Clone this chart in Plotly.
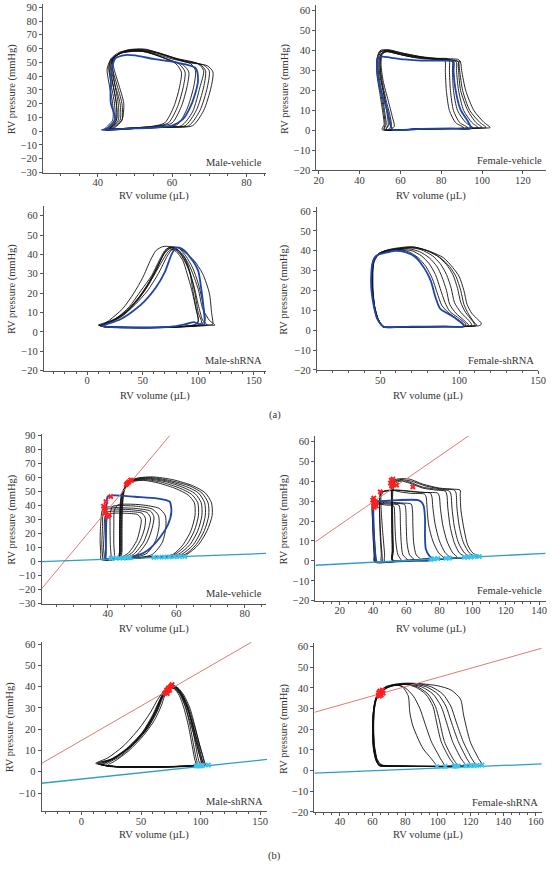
import plotly.graph_objects as go

W, H = 555, 869
FONT = "Liberation Serif"

# ================= DATA (volume µL, pressure mmHg) =================
# ---- (a) Male-vehicle ----
A_MV_BLACK = [
    [(41,1),(50,2),(60,3),(65.5,4),(68.5,15),(70.5,32),(71,43),(69.5,47.5),(64,50),(58,55),(53,59.5),(48,59),(45,55),(44,48),(44.5,35),(45.5,20),(45.5,8),(43,2)],
    [(41.5,1),(50,2),(59,3),(64.5,4),(67.5,15),(69.5,32),(70,44),(68.5,48),(63,51),(57,56),(52,59),(47.5,58.5),(44.5,54),(43.5,47),(44,35),(45,20),(45,8),(43,2)],
    [(42,1),(50,2),(58,3),(63.5,4),(66.5,15),(68.5,32),(69,44),(67.5,48.5),(62,52),(56,57),(51.5,58.5),(47,57.5),(44,53),(43,46),(43.5,35),(44.5,20),(44.5,8),(42.5,2)],
    [(42,1),(50,2),(57,3),(62.5,4),(65.5,14),(67.5,32),(68.5,44),(67,49),(61,53),(55,58),(51,59.5),(46.5,57),(43.5,52),(42.5,45),(43,35),(44,20),(44,8),(42,2)],
    [(42.5,1.5),(50,2.5),(56,3.5),(60,6),(62.5,18),(64,32),(64.5,43),(63,48),(59,52),(54,57),(50.5,58.5),(46.5,57),(44,53),(43.5,47),(44.5,35),(46,20),(46,8),(43.5,2.5)],
    [(42.5,1.5),(50,2.5),(55,3.5),(59,6),(61.5,18),(63,32),(63.5,43),(62,48.5),(58,53),(53,57.5),(50,58),(46,56.5),(44,52),(44,45),(45,35),(46.5,20),(46.5,8),(44,2.5)],
    [(43,1.5),(50,2.5),(54.5,3.5),(58,6),(60.5,18),(62,32),(62.5,43),(61,49),(57,54),(52,58),(49,58),(45.5,56),(44,51),(44.5,44),(45.5,35),(47,20),(46.5,8),(44.5,2.5)],
    [(42,1.2),(50,2.2),(57.5,3.2),(61.5,5),(64,16),(65.8,32),(66.3,44),(65,49),(60,52.5),(54.5,57),(50.5,59),(46,57.5),(43.5,52.5),(43,46),(44,35),(45,20),(45,8),(43,2)],
]
A_MV_BLUE = [(41.5,1.2),(50,2),(57,3),(60.2,4.3),(63,9),(64.6,15.8),(66.2,27),(67,37.3),(66.3,46),(61,50),(55,52.5),(50,55),(47.4,55.3),(44.8,53),(43.9,47),(43.5,35),(43.5,20.6),(44.7,8.7),(42.6,2)]

# ---- (a) Female-vehicle ----
A_FV_BLACK = [
    [(51,0.5),(70,0.8),(90,1),(100,1.2),(104,1.5),(101,4),(96,10),(92,20),(90,30),(89.5,34),(88.5,35.5),(80,36),(70,37),(60,39),(54,40.5),(50,40),(48.5,36),(48.5,28),(50,18),(51.5,8),(52,3)],
    [(52,0.5),(70,0.8),(90,1),(98,1.2),(102,1.5),(99,4),(94,10),(90.5,20),(89,30),(88.5,34),(87.5,35),(80,35.5),(70,36.5),(60,38.5),(54,40),(50.5,39.5),(49,35),(49.5,27),(51,18),(52.5,8),(53,3)],
    [(53,0.5),(70,0.8),(88,1),(96,1.2),(98,1.5),(95,4),(91,10),(88.5,20),(87.5,30),(87.5,34),(86.5,35),(80,35.5),(70,36),(60,38),(55,39.5),(51,39),(49.5,35),(50,27),(52,18),(53.5,8),(54,3)],
    [(54,0.5),(70,0.8),(85,1),(92,1.2),(93,1.5),(89,4),(86,10),(84.5,20),(84,30),(84,35),(83,36),(75,36),(65,37),(58,38.5),(53,39.5),(50.5,38),(50,33),(51,25),(53,15),(55,7),(55.5,2)],
    [(55,0.5),(70,0.8),(84,1),(90,1.2),(91,1.5),(87,4),(84,10),(82.5,20),(82,30),(82,34.5),(81,35.5),(75,36),(65,37),(58,38.5),(53,39.5),(51,38),(50.5,33),(51.5,25),(54,15),(56,7),(57,2)],
    [(53,0.5),(70,0.8),(86,1),(94,1.2),(95.5,1.5),(92,4),(88,10),(86,20),(85.5,30),(85.5,34.5),(84.5,35.5),(78,36),(68,37),(60,38.5),(54,40),(51,39),(50,34),(50.5,26),(52,17),(54,8),(54.5,3)],
    [(52,0.5),(70,0.8),(89,1),(97,1.2),(100,1.5),(97,4),(93,10),(89.5,20),(88.5,30),(88.5,34),(89.5,34.5),(85,35),(75,36),(62,38.5),(55,40),(50,39.5),(48.5,35),(49,27),(50.5,18),(52,8),(52.5,3)],
]
A_FV_BLUE = [(56,0.5),(70,0.8),(85,1),(94.5,1),(93.4,4),(89.4,10.6),(87,20.5),(86,30),(86,34.5),(80,35),(70,35),(62,35.6),(55,36.5),(51,37),(48.8,36),(48.6,30),(50,22),(52,15),(53.5,10),(55,4)]

# ---- (a) Male-shRNA ----
A_MS_BLACK = [
    [(10,3.5),(25,2.3),(50,2),(75,2.3),(95,3),(108,3.5),(115,3.5),(110,6),(104,12),(100,22),(93,33),(86,40),(80,43),(74,43.5),(70,42),(65,37),(58,29),(48,21),(38,13),(26,7),(15,4.5)],
    [(12,3),(30,2.2),(55,2.1),(80,2.5),(98,3),(108,3.5),(104,6),(100,14),(96,24),(90,34),(84,40),(79,42.5),(74,42),(68,37),(60,29),(50,20),(40,13),(30,8),(18,4.5)],
    [(14,3),(35,2.3),(60,2.2),(85,2.8),(100,3.5),(103,5),(100,10),(97,20),(93,30),(88,37),(82,42),(76,43.5),(70,41),(63,33),(55,24),(45,16),(33,9),(20,5)],
    [(13,3),(30,2.5),(55,2.3),(80,2.6),(95,3.5),(100,5),(98,12),(95,22),(92,32),(88,38),(82,42),(75,44),(68,44),(62,42),(57,37),(50,28),(42,20),(32,12),(20,6)],
    [(15,2.8),(40,2.3),(65,2.3),(90,3),(102,3.8),(106,6),(104,15),(100,25),(95,33),(89,39),(83,43),(77,44),(72,43),(66,37),(58,28),(48,19),(36,11),(22,5.5)],
    [(12,3.2),(35,2.3),(65,2.3),(95,3),(110,3.5),(113,4),(112,10),(110,20),(104,30),(96,37),(88,41),(82,43.5),(77,43),(72,39),(64,30),(54,21),(43,14),(30,7.5),(17,4.2)],
    [(11,3.3),(30,2.4),(55,2.2),(85,2.6),(97,3.2),(100,6),(98,12),(94,22),(90,30),(86,37),(80,41.5),(74,43),(69,40),(62,32),(53,23),(44,16),(34,10),(22,5.5)],
]
A_MS_BLUE = [(13,3),(25,2.4),(45,2.3),(65,2.4),(80,3),(90,4.2),(96,5),(101,4),(105.5,4),(105,11),(103,21),(100,31.5),(96,36),(92.5,38.5),(90,40.5),(85,43),(80,43.5),(76,40),(70,31),(62,23),(52,16),(42,11),(30,6.5),(18,4)]

# ---- (a) Female-shRNA ----
A_FS_BLACK = [
    [(52,1.5),(70,1.7),(90,1.8),(105,1.9),(113.5,2.5),(114,3.5),(111,6),(108,8.5),(105,13),(103,20),(100,27),(96,31.5),(90,36.5),(82,39.5),(72,41.8),(65,41.5),(57,40.5),(50,39),(46,36),(45,30),(45,20),(46,12),(48,6),(50.5,2.5)],
    [(52,1.6),(70,1.7),(90,1.8),(105,1.9),(110,2.5),(108,5),(104,9),(101,14),(99,21),(96,28),(92,33),(86,37.5),(78,40.5),(70,42),(62,41.5),(55,40.5),(49,38.5),(46,35),(45,28),(45.3,20),(46.5,12),(48.5,6),(51,2.5)],
    [(52,1.6),(72,1.7),(92,1.8),(104,1.9),(108,2.5),(106,5),(101,9),(97,14),(95,21),(92,28),(88,33.5),(83,37.5),(76,40.5),(69,41.5),(62,41),(55,40),(49,38),(46,34),(45,27),(45.3,20),(46.5,12),(48.5,6),(51,2.5)],
    [(52.5,1.6),(72,1.7),(92,1.8),(103,1.9),(106,2.5),(103,5),(98,8.5),(94,13),(92,20),(89,27),(86,32),(81,36.5),(75,39.5),(68,41),(61,40.5),(54,40),(48.5,38),(45.5,34),(44.8,27),(45,20),(46.3,12),(48.5,6),(51,2.5)],
    [(52.5,1.6),(72,1.7),(92,1.8),(104,2),(104,3.3),(99,6.5),(94,9.5),(91,14),(88,21),(85,28),(81,33.5),(76,37.5),(70,40),(64,40.5),(57,40),(51,39),(47,37),(45,33),(44.5,26),(45,19),(46.5,11),(48.5,5.5),(51,2.5)],
    [(53,1.7),(72,1.8),(92,1.9),(103,2),(103,3),(98,6),(93,9),(89,12.5),(86,19),(83,26),(79,32),(74,36.5),(68,39.5),(62,40.5),(56,40),(50,38.5),(46,36),(44.8,31),(44.5,24),(45.3,16),(47,9),(49.5,4),(51.5,2.2)],
    [(52,1.6),(70,1.7),(92,1.8),(106,1.9),(111,2.5),(109,4.5),(106,8),(103,13),(101,20),(98,27),(94,32),(88,36.5),(80,40),(72,41.5),(64,41.2),(56,40.5),(50,39),(46.5,36),(45.5,30),(45.5,20),(46.5,12),(48.5,6),(51,2.5)],
]
A_FS_BLUE = [(52.4,1.7),(70,1.8),(90,1.9),(103,2),(102,3.3),(98,5.8),(93,8.3),(88,10.8),(85,16.6),(82,25),(77.7,31.5),(72,37),(66,39.3),(59.5,40),(53.4,39),(47.5,37.5),(45.2,34),(44.3,27),(44.5,20),(46,12),(48,6),(50.5,3)]

# ---- (b) Male-vehicle (occlusion) ----
B_MV_BLACK = [
    [(44.2,2.5),(52,3),(59,3.5),(63,5),(66.5,12),(69,22),(70.5,33),(70.3,42),(68.5,49),(65,54),(59,58.5),(53,60.5),(48.5,59.5),(46,56.5),(44.8,50),(44.3,38),(44.2,22),(44.2,8)],
    [(44,2.5),(52,3),(58.5,3.5),(62.5,5),(65.8,12),(68.2,22),(69.5,33),(69.3,42),(67.5,49),(64,54),(58,58),(52.5,60),(48,59),(46,56),(44.7,50),(44.2,38),(44,22),(44,8)],
    [(43.8,2.5),(51,3),(57.5,3.5),(61.5,5),(65,12),(67.3,22),(68.5,33),(68.3,42),(66.5,49),(63,53.5),(57.5,57.5),(52,59.5),(47.8,58.5),(45.8,55.5),(44.5,49),(44,38),(43.8,22),(43.8,8)],
    [(43.6,2.5),(51,3),(57,3.5),(60.5,5),(64,12),(66.3,22),(67.5,33),(67.3,42),(65.5,48.5),(62,53),(57,57),(51.5,59),(47.5,58),(45.6,55),(44.3,49),(43.8,38),(43.6,22),(43.6,8)],
    [(43.5,2.5),(50.5,3),(56,3.5),(59.5,5),(63,12),(65.3,22),(66.5,33),(66.3,42),(64.5,48),(61,52.5),(56,56.5),(51,58.5),(47.3,57.5),(45.5,54.5),(44.2,48),(43.7,38),(43.5,22),(43.5,8)],
    [(43.5,2.5),(50,3),(55.5,3.5),(59,5),(62,12),(64.3,22),(65.5,33),(65.3,42),(63.5,47.5),(60,52),(55,56),(50.5,58),(47,57),(45.3,54),(44,47.5),(43.6,38),(43.5,22),(43.5,8)],
    [(42,2),(48,2.5),(53,5),(56,14),(57,25),(56.8,33),(55,38),(50,40.5),(45,41),(43,40.5),(42,37),(41.8,25),(41.8,12),(42,5)],
    [(41,2),(47,2.5),(51.5,6),(54,15),(55,25),(54.8,33),(53,37.5),(48.5,39.5),(43.5,40),(41.5,39.5),(40.8,35),(40.7,23),(40.8,11),(41,4)],
    [(38,1.5),(44,2),(48.5,5),(51.5,14),(53,24),(53.5,32),(52.5,36),(48,38),(43,38.5),(40,39),(38.5,37),(38,28),(37.8,15),(38,5)],
    [(38.5,1.5),(44,2),(47.5,5),(50.5,14),(52,24),(52.5,31),(51.5,35),(47,37),(42,37.5),(39.5,37.5),(38.7,35),(38.5,25),(38.3,12),(38.5,4)],
    [(39,1.5),(43.5,2),(47,6),(49.5,15),(50.8,24),(51,31),(50,34.5),(46,35.8),(41.5,36),(40,35.5),(39.2,32),(39,22),(38.8,10),(39,4)],
    [(39.3,1.5),(43,2.2),(46,6),(48.5,15),(49.5,24),(49.8,30),(48.8,33.5),(45,34.5),(41.5,34.5),(40.3,33.5),(39.8,30),(39.6,20),(39.4,10),(39.3,4)],
]
B_MV_BLUE = [(39.5,2.2),(46.7,3),(51.4,7.5),(55.2,17),(57.6,26.4),(58.6,35.8),(58.1,42.8),(56,44.5),(54.3,45.2),(48,46.3),(42,47.3),(40,46.5),(39.7,42),(39.5,30),(39.5,15),(39.5,6)]
B_MV_ESPVR_V = [20.7, 58.1]
B_MV_ESPVR_P = [-19.5, 90]
B_MV_EDPVR_V = [20.7, 86.2]
B_MV_EDPVR_P = [0, 5.8]
B_MV_ES_V = [45.7, 46.2, 46.7, 46.0, 45.4, 47.0, 40.9, 39.5, 39.0, 39.2, 40.0, 39.4, 40.5, 38.8]
B_MV_ES_P = [55.8, 57.0, 58.2, 56.5, 55.0, 58.0, 46.4, 42.8, 38.1, 34.6, 32.3, 36.5, 33.4, 39.5]
B_MV_ED_V = [41, 42.5, 43.5, 44.5, 45.5, 46.5, 53.5, 55, 56.5, 58, 59.5, 61, 62.5]
B_MV_ED_P = [2.3, 2.4, 2.5, 2.5, 2.6, 2.7, 3.0, 3.1, 3.2, 3.3, 3.4, 3.5, 3.6]

# ---- (b) Female-vehicle ----
B_FV_BLACK = [
    [(51.5,0.2),(70,0.8),(90,1.5),(104,2.3),(100,4),(97,8),(95,15),(93,25),(92.5,33),(92.5,35.5),(88,36),(80,36.5),(70,38.5),(62,41),(56,41.2),(52.5,40.5),(51.2,38),(51.2,28),(51.3,15),(51.5,5)],
    [(51.5,0.2),(70,0.8),(90,1.5),(101,2),(98,4),(94.5,9),(92,17),(90.5,27),(90,34),(89,35.5),(82,36),(72,37.5),(63,40),(57,40.8),(53,40),(51.5,37),(51.3,27),(51.5,15),(51.8,5)],
    [(52,0.2),(70,0.8),(88,1.3),(98.5,1.8),(95,4),(91.5,9),(89,17),(87.5,27),(87,33),(86,35),(80,35.8),(70,37),(62,39.5),(57,40.5),(53,39.5),(51.6,36),(51.5,26),(51.7,14),(52,5)],
    [(52,0.2),(70,0.8),(87,1.3),(96,1.7),(92,4),(89,9),(86.5,17),(85,27),(84.5,33),(83.5,35),(78,35.5),(70,36.5),(62,39),(57,40),(53.5,39),(52,35),(51.8,25),(52,14),(52.3,5)],
    [(45,-0.2),(60,0.3),(80,1),(91,1.5),(88,4),(84.5,10),(82,18),(80.5,27),(80,32),(79,34),(72,34.3),(62,35),(55,35.5),(48,35),(45,34.5),(44,31),(44,20),(44.5,10),(45,3)],
    [(46,-0.2),(60,0.3),(78,0.9),(87,1.3),(83.5,4),(80,10),(77.5,18),(76,27),(75.5,32),(74.5,34),(68,34.3),(60,35),(53,35.5),(47,35),(44.5,34),(44,30),(44.2,20),(44.8,10),(45.5,3)],
    [(47,-0.2),(60,0.2),(74,0.7),(83,1.1),(79.5,4),(76,10),(73.5,18),(72.5,27),(72,32),(71,33.5),(64,33.8),(57,34.5),(51,35.5),(47,35),(45,33.5),(44.8,28),(45.5,18),(46.5,8),(47,3)],
    [(41,-0.6),(55,-0.2),(66,0.2),(69,0.5),(66,3),(64.5,9),(64,18),(63.8,25),(63,28.5),(58,29),(50,29.5),(44,30),(40.5,30.5),(39.5,28),(39.8,20),(40.2,10),(40.7,3)],
    [(41,-0.6),(52,-0.3),(62,0.1),(65,0.4),(62,3),(60.5,9),(60,18),(59.8,25),(59,28.3),(54,28.8),(47,29.2),(42,29.8),(40,30),(39.5,27),(39.8,18),(40.3,9),(40.8,3)],
    [(41.5,-0.6),(50,-0.4),(58,0),(61,0.3),(58,3),(57,9),(56.5,18),(56.3,25),(55.5,28),(50,28.5),(45,28.8),(41.5,29.2),(40.3,28.5),(40,25),(40.3,17),(40.8,9),(41.3,3)],
    [(42,-0.6),(48,-0.4),(54,-0.1),(57,0.2),(55,3),(53.8,9),(53.2,18),(53,24),(52.5,27.5),(48,28),(43,28.5),(41,28.3),(40.5,26),(40.5,18),(41,10),(41.5,3)],
]
B_FV_BLUE = [(42.4,-0.5),(55,-0.3),(65,0),(76.8,0.5),(73.9,2.5),(71.8,6),(71.3,12),(71.3,21.4),(70.5,27.5),(69.2,29.5),(67,30.5),(55,30.5),(45,30),(41,29.5),(40,27),(40.2,20),(40.6,12),(41.2,5),(41.8,1)]
B_FV_ESPVR_V = [5.3, 97.6]
B_FV_ESPVR_P = [9.6, 62.7]
B_FV_EDPVR_V = [5.3, 144]
B_FV_EDPVR_P = [-2.2, 3.8]
B_FV_ES_V = [39.8, 40.3, 41.0, 41.8, 40.5, 42.0, 40.8, 50.5, 51.0, 51.5, 52.0, 51.2, 44.4, 54.2, 64.0]
B_FV_ES_P = [30.5, 29.0, 28.0, 29.5, 31.5, 27.5, 26.8, 39.0, 40.5, 38.0, 41.0, 37.5, 34.6, 38.0, 37.1]
B_FV_ED_V = [75, 77, 79, 84, 86, 95, 97, 99, 101, 104]
B_FV_ED_P = [0.9, 1.0, 1.1, 1.3, 1.4, 1.8, 1.9, 2.0, 2.1, 2.2]

# ---- (b) Male-shRNA ----
B_MS_BLACK = [
    [(14,3.8),(25,2.4),(50,2.2),(75,2.4),(95,2.8),(103,3.3),(101.5,5),(99,11),(94,21),(88,31),(83,37),(78,39.8),(74,40),(70.5,38),(66.5,34),(62,28),(53,19),(40,11.5),(25,6),(16,4.5)],
    [(16,3.5),(30,2.4),(55,2.2),(80,2.5),(97,2.9),(101,3.5),(100,6),(97,12),(92,22),(87,31),(82,37),(77,39.5),(73,39.5),(69,37),(65,33),(60,27),(51,18.5),(38,11),(27,6.5),(18,4.2)],
    [(18,3.2),(35,2.3),(60,2.2),(85,2.6),(98,3),(100.5,4.5),(99,8),(96,15),(92,25),(88,32),(84,37),(79,40),(75,40.5),(71,38.5),(67,34),(63,28),(55,20),(43,12.5),(30,7),(20,4)],
    [(13,4),(28,2.4),(55,2.1),(80,2.3),(96,2.8),(104,3.2),(103,5),(100,11),(95,21),(90,30),(85,36),(80,39.5),(75,40),(71,38.5),(67,35),(63,29),(54,20),(41,12),(27,6.2),(15,4.4)],
    [(15,3.6),(30,2.3),(58,2.2),(82,2.5),(92,2.8),(96,3.5),(95,6),(93,12),(90,21),(86,30),(82,36),(78,39),(74,39.5),(70,37.5),(66,33),(61,27),(52,19),(39,11),(26,6),(17,4.2)],
    [(17,3.3),(32,2.3),(60,2.2),(85,2.5),(99,3),(102,4),(100.5,7),(97.5,13),(93,23),(88,32),(83,37.5),(78,40.5),(73.5,40.5),(69.5,38),(66,34),(61.5,28),(53,19.5),(41,12),(29,6.8),(19,4)],
    [(20,3),(38,2.3),(62,2.3),(85,2.6),(94,3),(97,4),(96,7),(94,13),(91,22),(87,31),(83,36.5),(79,39),(75,39.5),(71.5,38),(68,34.5),(64,29),(56,21),(45,13.5),(33,7.5),(22,4)],
    [(12,4),(25,2.5),(50,2.3),(75,2.5),(93,2.9),(99,3.5),(98,6),(96,12),(93,21),(89,30),(84,36),(79,39.5),(74,40),(70,38.5),(64,34),(58,28),(48,20),(35,12),(22,6.5),(14,4.6)],
    [(22,3),(40,2.3),(65,2.3),(88,2.6),(100,3),(103,4),(102,7),(99,13),(95,22),(91,30),(86,36),(81,39.5),(77,40.5),(73,39.5),(70,36),(67,31),(61,24),(52,17),(40,10),(28,5)],
]
B_MS_ESPVR_V = [-33.5, 142.5]
B_MS_ESPVR_P = [3.9, 60.9]
B_MS_EDPVR_V = [-33.5, 155.7]
B_MS_EDPVR_P = [-5.4, 5.8]
B_MS_ES_V = [70, 71, 72.5, 73.5, 74.5, 75.5, 76, 73, 71.5, 74, 72]
B_MS_ES_P = [37, 37.5, 38, 39, 40, 40.5, 41, 39.5, 38.5, 38.3, 36.8]
B_MS_ED_V = [96, 97.5, 99, 100.5, 101.5, 106.5]
B_MS_ED_P = [2.7, 2.8, 2.8, 2.9, 2.9, 3.1]

# ---- (b) Female-shRNA ----
B_FS_BLACK = [
    [(65.8,2.7),(80,2.2),(100,2),(115,2.2),(127,2.7),(124.8,5.9),(119.8,13.9),(115.8,26.6),(113.8,34.6),(108,39),(100,41),(90,42),(80,42.3),(72,41.5),(66,39),(62.5,36),(61,30),(60.5,20),(61,12),(62.5,6),(64.5,3.5)],
    [(65.5,2.6),(80,2.1),(100,2),(115,2.1),(123,2.5),(120.5,6),(115.5,14),(111,24),(108,31),(103,37),(96,40.5),(88,42),(79,42),(71,41),(65.5,38.5),(62,35),(60.5,28),(60.2,20),(60.6,12),(62,6),(64,3.5)],
    [(65,2.6),(80,2.1),(100,2),(112,2.1),(120,2.4),(117.5,6),(112.5,14),(108,24),(105,31),(100,37),(93,40.5),(85,41.8),(77,41.5),(70,40.5),(65,38),(61.8,34),(60.3,27),(60,19),(60.5,11),(62,5.5),(63.5,3.2)],
    [(65,2.5),(80,2.1),(100,2),(110,2.1),(117,2.3),(114,6),(109,14),(105,24),(102,31),(97,37),(90,40.5),(82,41.8),(75,41.5),(69,40),(64.5,37.5),(61.5,33),(60.2,26),(60,18),(60.6,10),(62,5),(63.5,3)],
    [(64.5,2.4),(80,2.1),(100,2),(108,2.1),(112,2.2),(109,6),(104,14),(101,24),(98.5,31),(94,37),(87.5,40.5),(80,41.8),(73,41.3),(67.5,40),(63.8,37.5),(61.5,33),(60.5,26),(60.3,18),(61,10),(62.3,5),(63.5,3)],
    [(64.5,2.4),(80,2.1),(100,2),(110,2.2),(107,6),(102,14),(99,24),(97,31),(92.5,37),(86,40.5),(79,41.8),(72,41.3),(67,39.7),(63.5,37.3),(61.3,33),(60.3,26),(60.2,18),(60.8,10),(62.3,5),(63.5,3)],
    [(64,2.4),(80,2),(95,2),(104,2.1),(101.5,5.9),(96,14),(92,23),(89,30),(85,36),(80,40),(74,41.5),(68.5,40.8),(65,38.5),(62.5,35),(61,29),(60.5,20),(61,12),(62.3,6),(63.5,3)],
    [(64,2.3),(80,2),(92,2),(98.8,2.4),(95.8,5.9),(91,10.5),(87.8,15.5),(84.5,22),(82.8,28.2),(81.8,36.2),(77.8,40.9),(73,41.2),(68,40.3),(64.5,38),(62.3,34.5),(61,29),(60.7,20),(61.2,12),(62.5,6),(63.5,3)],
]
B_FS_ESPVR_V = [24.4, 163.6]
B_FS_ESPVR_P = [28.2, 59.2]
B_FS_EDPVR_V = [24.4, 163.6]
B_FS_EDPVR_P = [-1.2, 3.2]
B_FS_ES_V = [63.5, 64, 64.5, 65, 65.5, 66, 64.2, 65.3, 63.8, 66.5]
B_FS_ES_P = [36.5, 37.5, 38.5, 37, 38, 39, 36, 36.5, 37.7, 37.5]
B_FS_ED_V = [99.4, 104.4, 110, 111.2, 112.5, 117, 120, 122.4, 124, 127]
B_FS_ED_P = [1.9, 2.0, 2.1, 2.1, 2.2, 2.3, 2.4, 2.4, 2.5, 2.6]

PANEL_LABELS = ["Male-vehicle", "Female-vehicle", "Male-shRNA", "Female-shRNA",
                "Male-vehicle", "Female-vehicle", "Male-shRNA", "Female-shRNA"]
X_TITLE = "RV volume (µL)"
Y_TITLE = "RV pressure (mmHg)"

# ================= STYLE / LAYOUT =================
BLACK = "#111111"
BLUE = "#1f45a8"
RED_LINE = "#e07a74"
CYAN_LINE = "#2f9dc6"
RED_X = "#ff1f1f"
CYAN_X = "#3cc3ee"
AX = "#555555"
TXT = "#333333"

# pixel geometry: (x0, x1, xrange, ytop, ybot, yrange, xdtick, xminor, x-title y px, y-title x px)
PANELS = [
    (41, 268, [25.3, 85.2], 0.5, 170.5, [-30, 92], 20, 5, 194, 9),
    (319.7, 553.7, [18.8, 131.2], 0.7, 168.4, [-20, 63], 20, None, 194, 287),
    (41.7, 268.3, [-39, 161], 204.3, 370.9, [-20, 65], 50, 10, 396.5, 9),
    (320.3, 546, [10, 150], 205.4, 370.2, [-20, 62], 50, 10, 396.5, 287),
    (39.3, 268.3, [20.7, 86.2], 435.2, 606.5, [-30, 91], 20, 5, 632.5, 9),
    (318.7, 553.7, [5.3, 144], 436.7, 603.7, [-20, 62.8], 20, 5, 632.5, 287),
    (39.3, 269.3, [-33.5, 155.7], 645.1, 816.7, [-18.6, 61.2], 50, 10, 841, 8),
    (317.7, 549.7, [24.4, 163.6], 646.7, 817.3, [-20, 61.6], 20, 5, 841, 286),
]

fig = go.Figure()


def axn(i):
    return ("x" if i == 0 else f"x{i+1}"), ("y" if i == 0 else f"y{i+1}")


def add_loop(i, pts, color, width):
    xa, ya = axn(i)
    xs = [p[0] for p in pts] + [pts[0][0]]
    ys = [p[1] for p in pts] + [pts[0][1]]
    fig.add_trace(go.Scatter(x=xs, y=ys, mode="lines", xaxis=xa, yaxis=ya,
                             line=dict(color=color, width=width, shape="spline", smoothing=0.7),
                             hoverinfo="skip", showlegend=False))


def add_line(i, xs, ys, color, width):
    xa, ya = axn(i)
    fig.add_trace(go.Scatter(x=xs, y=ys, mode="lines", xaxis=xa, yaxis=ya,
                             line=dict(color=color, width=width),
                             hoverinfo="skip", showlegend=False))


def add_marks(i, xs, ys, color):
    xa, ya = axn(i)
    fig.add_trace(go.Scatter(x=xs, y=ys, mode="markers", xaxis=xa, yaxis=ya,
                             marker=dict(symbol="x", size=5, color=color,
                                         line=dict(width=0)),
                             hoverinfo="skip", showlegend=False))


# (a)
for i, (blk, blu) in enumerate([(A_MV_BLACK, A_MV_BLUE), (A_FV_BLACK, A_FV_BLUE),
                                (A_MS_BLACK, A_MS_BLUE), (A_FS_BLACK, A_FS_BLUE)]):
    for lp in blk:
        add_loop(i, lp, BLACK, 0.9)
    add_loop(i, blu, BLUE, 1.8)

# (b)
B_SETS = [
    (B_MV_BLACK, B_MV_BLUE, B_MV_ESPVR_V, B_MV_ESPVR_P, B_MV_EDPVR_V, B_MV_EDPVR_P, B_MV_ES_V, B_MV_ES_P, B_MV_ED_V, B_MV_ED_P),
    (B_FV_BLACK, B_FV_BLUE, B_FV_ESPVR_V, B_FV_ESPVR_P, B_FV_EDPVR_V, B_FV_EDPVR_P, B_FV_ES_V, B_FV_ES_P, B_FV_ED_V, B_FV_ED_P),
    (B_MS_BLACK, None, B_MS_ESPVR_V, B_MS_ESPVR_P, B_MS_EDPVR_V, B_MS_EDPVR_P, B_MS_ES_V, B_MS_ES_P, B_MS_ED_V, B_MS_ED_P),
    (B_FS_BLACK, None, B_FS_ESPVR_V, B_FS_ESPVR_P, B_FS_EDPVR_V, B_FS_EDPVR_P, B_FS_ES_V, B_FS_ES_P, B_FS_ED_V, B_FS_ED_P),
]
for k, (blk, blu, rv, rp, cv, cp, esv, esp, edv, edp) in enumerate(B_SETS):
    i = k + 4
    for lp in blk:
        add_loop(i, lp, BLACK, 0.9)
    if blu is not None:
        add_loop(i, blu, BLUE, 1.8)
    add_line(i, rv, rp, RED_LINE, 1)
    add_line(i, cv, cp, CYAN_LINE, 1.3)
    add_marks(i, esv, esp, RED_X)
    add_marks(i, edv, edp, CYAN_X)

layout = dict(width=W, height=H, margin=dict(l=0, r=0, t=0, b=0),
              paper_bgcolor="white", plot_bgcolor="white", showlegend=False)
annotations = []
tickfont = dict(family=FONT, size=10.5, color="#3a3a3a")
for i, (x0, x1, xr, yt, yb, yr, xdt, xmin, xty, ytx) in enumerate(PANELS):
    xk = "xaxis" if i == 0 else f"xaxis{i+1}"
    yk = "yaxis" if i == 0 else f"yaxis{i+1}"
    xa, ya = axn(i)
    xax = dict(domain=[x0 / W, x1 / W], range=xr, anchor=ya, showline=True,
               linecolor=AX, linewidth=1, ticks="outside", ticklen=3, tickcolor=AX,
               showgrid=False, zeroline=False, dtick=xdt, tick0=0, tickfont=tickfont,
               ticklabelstandoff=-3)
    if xmin:
        xax["minor"] = dict(dtick=xmin, ticks="outside", ticklen=2, tickcolor=AX, showgrid=False)
    yax = dict(domain=[1 - yb / H, 1 - yt / H], range=yr, anchor=xa, showline=True,
               linecolor=AX, linewidth=1, ticks="outside", ticklen=3, tickcolor=AX,
               showgrid=False, zeroline=False, dtick=10, tick0=0, tickfont=tickfont)
    layout[xk] = xax
    layout[yk] = yax
    annotations.append(dict(text=X_TITLE, xref="paper", yref="paper",
                            x=(x0 + x1) / 2 / W, y=1 - xty / H,
                            showarrow=False, xanchor="center", yanchor="middle",
                            font=dict(family=FONT, size=10.5, color=TXT)))
    annotations.append(dict(text=Y_TITLE, xref="paper", yref="paper",
                            x=ytx / W, y=1 - ((yt + yb) / 2 + 1) / H, textangle=-90,
                            showarrow=False, xanchor="center", yanchor="middle",
                            font=dict(family=FONT, size=10.5, color=TXT)))
    annotations.append(dict(text=PANEL_LABELS[i], xref="paper", yref="paper",
                            x=(x1 - 2) / W, y=1 - (yb - 10) / H,
                            showarrow=False, xanchor="right", yanchor="middle",
                            font=dict(family=FONT, size=10.5, color=TXT)))

annotations.append(dict(text="(a)", xref="paper", yref="paper", x=277 / W, y=1 - 416 / H,
                        showarrow=False, xanchor="center", yanchor="middle",
                        font=dict(family=FONT, size=10.5, color=TXT)))
annotations.append(dict(text="(b)", xref="paper", yref="paper", x=277 / W, y=1 - 862 / H,
                        showarrow=False, xanchor="center", yanchor="middle",
                        font=dict(family=FONT, size=10.5, color=TXT)))
layout["annotations"] = annotations
fig.update_layout(**layout)
fig.write_html("out.html")
